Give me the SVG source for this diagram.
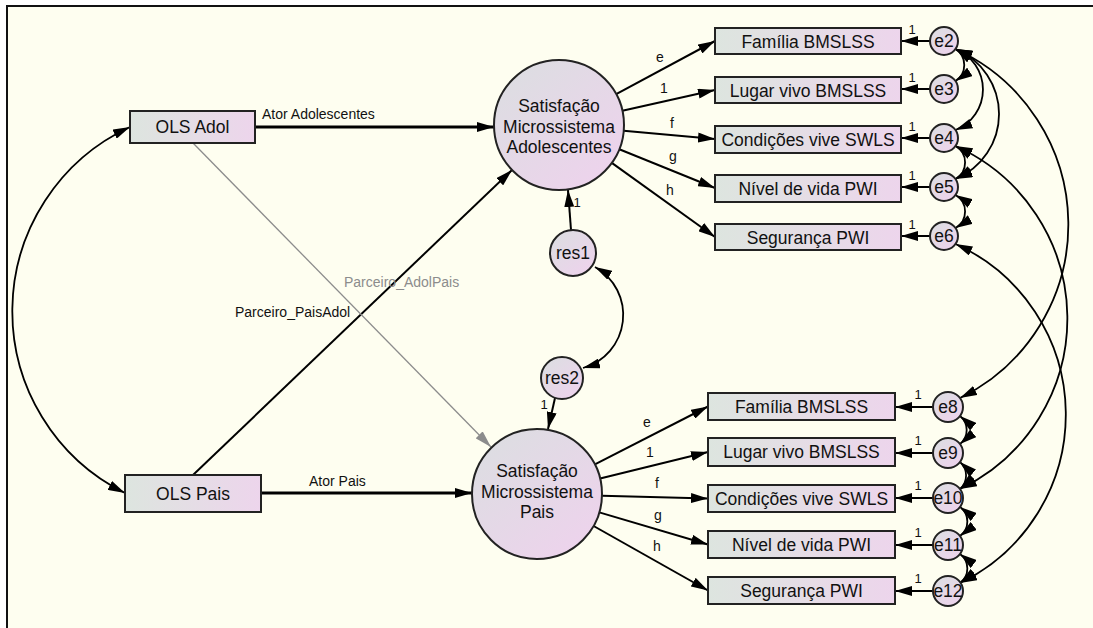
<svg xmlns="http://www.w3.org/2000/svg" width="1093" height="628" viewBox="0 0 1093 628">
  <defs>
    <linearGradient id="boxFill" x1="0" y1="0" x2="1" y2="0">
      <stop offset="0" stop-color="#DDE5DF"/>
      <stop offset="1" stop-color="#EDD5EC"/>
    </linearGradient>
    <linearGradient id="ovalFill" x1="0.15" y1="0.1" x2="0.85" y2="0.9">
      <stop offset="0" stop-color="#DDDDE2"/>
      <stop offset="1" stop-color="#EDD3EC"/>
    </linearGradient>
    <marker id="ah" markerUnits="userSpaceOnUse" viewBox="0 0 17 10" markerWidth="17" markerHeight="10" refX="17" refY="5" orient="auto-start-reverse">
      <path d="M0,0 L17,5 L0,10 z" fill="#000"/>
    </marker>
    <marker id="ahGray" markerUnits="userSpaceOnUse" viewBox="0 0 17 10" markerWidth="17" markerHeight="10" refX="17" refY="5" orient="auto">
      <path d="M0,0 L17,5 L0,10 z" fill="#8C8C8C"/>
    </marker>
  </defs>
  <style>
    text { font-family: "Liberation Sans", Arial, sans-serif; fill: #111; }
    .box { fill: url(#boxFill); stroke: #222; stroke-width: 2; }
    .oval { fill: url(#ovalFill); stroke: #222; stroke-width: 2; }
    .node { font-size: 17.5px; text-anchor: middle; }
    .lbl { font-size: 14px; }
    .lblc { font-size: 14px; text-anchor: middle; }
    .one { font-size: 13px; text-anchor: middle; }
    .path1 { fill: none; stroke: #000; stroke-width: 2; marker-end: url(#ah); }
    .thick { fill: none; stroke: #000; stroke-width: 3; marker-end: url(#ah); }
    .cov { fill: none; stroke: #000; stroke-width: 1.8; marker-start: url(#ah); marker-end: url(#ah); }
    .gray { fill: none; stroke: #8C8C8C; stroke-width: 1.3; marker-end: url(#ahGray); }
  </style>

  <!-- canvas and frame -->
  <rect x="0" y="0" width="1093" height="628" fill="#FFFFFF"/>
  <rect x="7" y="6" width="1086" height="622" fill="#FEFEF0"/>
  <path d="M7,628 L7,6 L1093,6" fill="none" stroke="#111" stroke-width="2"/>

  <!-- connectors -->
  <g id="connectors">
    <!-- structural paths -->
    <path class="thick" d="M255,127 L494,127"/>
    <path class="thick" d="M261,493 L472,493"/>
    <path class="path1" d="M193,475 L512,170"/>
    <path class="gray" d="M193,143 L491,447"/>
    <!-- covariance between predictors -->
    <path class="cov" d="M130,127 A203,203 0 0 0 125,493"/>
    <!-- residuals -->
    <path class="path1" d="M571,230 L568,190"/>
    <path class="path1" d="M555,398 L548,429"/>
    <path class="cov" d="M595,267 A55,55 0 0 1 583,368"/>

    <!-- loadings, adolescent factor -->
    <path class="path1" d="M616.2,94.2 L715,41"/>
    <path class="path1" d="M622.4,110.8 L715,90"/>
    <path class="path1" d="M623.7,130.8 L715,139"/>
    <path class="path1" d="M619.3,149.3 L715,188"/>
    <path class="path1" d="M611.8,162.9 L715,237"/>
    <!-- loadings, parent factor -->
    <path class="path1" d="M594.9,464.4 L708,406.5"/>
    <path class="path1" d="M600.1,478.5 L708,452"/>
    <path class="path1" d="M602,495.7 L708,498.5"/>
    <path class="path1" d="M599.3,512.4 L708,544.5"/>
    <path class="path1" d="M593.6,526 L708,590.5"/>

    <!-- error terms to indicators -->
    <path class="path1" d="M930,41 L901,41"/>
    <path class="path1" d="M930,89 L901,89"/>
    <path class="path1" d="M930,138 L901,138"/>
    <path class="path1" d="M930,187 L901,187"/>
    <path class="path1" d="M930,236 L901,236"/>
    <path class="path1" d="M933,407 L895,407"/>
    <path class="path1" d="M933,453 L895,453"/>
    <path class="path1" d="M933,498 L895,498"/>
    <path class="path1" d="M933,545 L895,545"/>
    <path class="path1" d="M933,591 L895,591"/>

    <!-- error covariances, adolescent block -->
    <path class="cov" d="M955.5,49 A19,19 0 0 1 955.5,81"/>
    <path class="cov" d="M955.5,49 A43.6,43.6 0 0 1 955.5,130"/>
    <path class="cov" d="M955.5,49 A70.3,70.3 0 0 1 955.5,179"/>
    <path class="cov" d="M955.5,146 A19,19 0 0 1 955.5,179"/>
    <path class="cov" d="M955.5,195 A19,19 0 0 1 955.5,228"/>
    <!-- error covariances, parent block -->
    <path class="cov" d="M960,416 A18,18 0 0 1 960,444"/>
    <path class="cov" d="M960,462 A18,18 0 0 1 960,489"/>
    <path class="cov" d="M960,507 A18,18 0 0 1 960,536"/>
    <path class="cov" d="M960,554 A18,18 0 0 1 960,583"/>
    <!-- error covariances across blocks -->
    <path class="cov" d="M955.5,49 A193,193 0 0 1 960,398"/>
    <path class="cov" d="M955.5,146 A189,189 0 0 1 960,489"/>
    <path class="cov" d="M955.5,244 A187,187 0 0 1 960,583"/>

    <!-- path labels -->
    <text class="lbl" x="262" y="119">Ator Adolescentes</text>
    <text class="lbl" x="309" y="486">Ator Pais</text>
    <text class="lbl" x="235" y="317">Parceiro_PaisAdol</text>
    <text class="lbl" x="344" y="287" style="fill:#8C8C8C">Parceiro_AdolPais</text>
    <text class="one" x="577" y="207">1</text>
    <text class="one" x="544" y="409">1</text>

    <text class="lblc" x="660" y="62">e</text>
    <text class="lblc" x="664" y="93">1</text>
    <text class="lblc" x="672" y="128">f</text>
    <text class="lblc" x="673" y="161">g</text>
    <text class="lblc" x="670" y="195">h</text>

    <text class="lblc" x="647" y="427">e</text>
    <text class="lblc" x="650" y="457">1</text>
    <text class="lblc" x="657" y="488">f</text>
    <text class="lblc" x="658" y="520">g</text>
    <text class="lblc" x="657" y="551">h</text>

    <text class="one" x="912" y="33.5">1</text>
    <text class="one" x="912" y="81.5">1</text>
    <text class="one" x="912" y="130.5">1</text>
    <text class="one" x="912" y="179.5">1</text>
    <text class="one" x="912" y="228.5">1</text>
    <text class="one" x="918" y="398.5">1</text>
    <text class="one" x="918" y="444.5">1</text>
    <text class="one" x="918" y="489.5">1</text>
    <text class="one" x="918" y="536.5">1</text>
    <text class="one" x="918" y="582.5">1</text>
  </g>

  <!-- observed predictors -->
  <g id="ols-adol">
    <rect class="box" x="130" y="111" width="125" height="32"/>
    <text class="node" x="192.5" y="133.3">OLS Adol</text>
  </g>
  <g id="ols-pais">
    <rect class="box" x="125" y="475" width="136" height="37"/>
    <text class="node" x="193" y="499.8">OLS Pais</text>
  </g>

  <!-- latent factors -->
  <g id="sat-adol">
    <circle class="oval" cx="559" cy="125" r="65"/>
    <text class="node" x="559" y="112">Satisfação</text>
    <text class="node" x="559" y="132.5">Microssistema</text>
    <text class="node" x="559" y="153">Adolescentes</text>
  </g>
  <g id="sat-pais">
    <circle class="oval" cx="537" cy="494" r="65"/>
    <text class="node" x="537" y="477">Satisfação</text>
    <text class="node" x="537" y="497.5">Microssistema</text>
    <text class="node" x="537" y="518">Pais</text>
  </g>

  <!-- residuals -->
  <g id="res1">
    <circle class="oval" cx="573" cy="253" r="23"/>
    <text class="node" x="573" y="259.3">res1</text>
  </g>
  <g id="res2">
    <circle class="oval" cx="562" cy="378" r="21"/>
    <text class="node" x="562" y="384.3">res2</text>
  </g>

  <!-- adolescent indicators -->
  <g id="ind-a1"><rect class="box" x="715" y="28" width="186" height="26"/><text class="node" x="808" y="47.5">Família BMSLSS</text></g>
  <g id="ind-a2"><rect class="box" x="715" y="77" width="186" height="26"/><text class="node" x="808" y="96.5">Lugar vivo BMSLSS</text></g>
  <g id="ind-a3"><rect class="box" x="715" y="126" width="186" height="27"/><text class="node" x="808" y="145.8">Condições vive SWLS</text></g>
  <g id="ind-a4"><rect class="box" x="715" y="175" width="186" height="27"/><text class="node" x="808" y="194.8">Nível de vida PWI</text></g>
  <g id="ind-a5"><rect class="box" x="715" y="224" width="186" height="26"/><text class="node" x="808" y="243.5">Segurança PWI</text></g>

  <!-- parent indicators -->
  <g id="ind-p1"><rect class="box" x="708" y="393" width="187" height="27"/><text class="node" x="801.5" y="412.8">Família BMSLSS</text></g>
  <g id="ind-p2"><rect class="box" x="708" y="438" width="187" height="28"/><text class="node" x="801.5" y="458.3">Lugar vivo BMSLSS</text></g>
  <g id="ind-p3"><rect class="box" x="708" y="485" width="187" height="27"/><text class="node" x="801.5" y="504.8">Condições vive SWLS</text></g>
  <g id="ind-p4"><rect class="box" x="708" y="531" width="187" height="27"/><text class="node" x="801.5" y="550.8">Nível de vida PWI</text></g>
  <g id="ind-p5"><rect class="box" x="708" y="577" width="187" height="27"/><text class="node" x="801.5" y="596.8">Segurança PWI</text></g>

  <!-- error terms -->
  <g id="e2"><circle class="oval" cx="944" cy="41" r="14"/><text class="node" x="944" y="47.3">e2</text></g>
  <g id="e3"><circle class="oval" cx="944" cy="89" r="14"/><text class="node" x="944" y="95.3">e3</text></g>
  <g id="e4"><circle class="oval" cx="944" cy="138" r="14"/><text class="node" x="944" y="144.3">e4</text></g>
  <g id="e5"><circle class="oval" cx="944" cy="187" r="14"/><text class="node" x="944" y="193.3">e5</text></g>
  <g id="e6"><circle class="oval" cx="944" cy="236" r="14"/><text class="node" x="944" y="242.3">e6</text></g>
  <g id="e8"><circle class="oval" cx="948" cy="407" r="15"/><text class="node" x="948" y="413.3">e8</text></g>
  <g id="e9"><circle class="oval" cx="948" cy="453" r="15"/><text class="node" x="948" y="459.3">e9</text></g>
  <g id="e10"><circle class="oval" cx="948" cy="498" r="15"/><text class="node" x="948" y="504.3">e10</text></g>
  <g id="e11"><circle class="oval" cx="948" cy="545" r="15"/><text class="node" x="948" y="551.3">e11</text></g>
  <g id="e12"><circle class="oval" cx="948" cy="591" r="15"/><text class="node" x="948" y="597.3">e12</text></g>
</svg>
